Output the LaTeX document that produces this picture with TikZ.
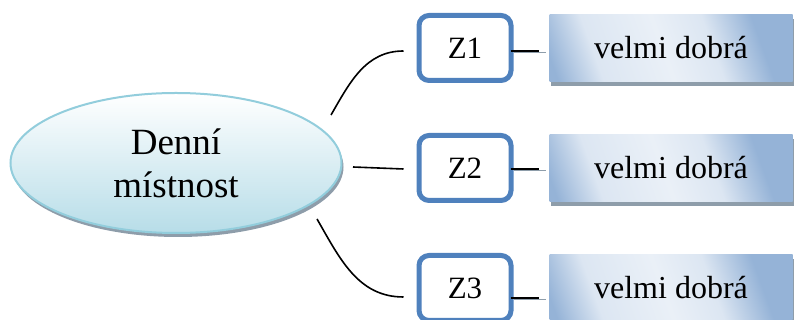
\documentclass[tikz,border=0pt]{standalone}
\usepackage{fontspec}
\setmainfont{Liberation Serif}
\usetikzlibrary{shapes.geometric,shadows}

\definecolor{zblue}{HTML}{4F81BD}
\definecolor{vlight}{HTML}{DCE6F2}
\definecolor{vblue}{HTML}{95B3D7}
\definecolor{hubline}{HTML}{92CDDC}
\definecolor{hubfill}{HTML}{B7DDE8}
\definecolor{shadowgray}{HTML}{8E9DAA}

\pgfdeclarehorizontalshading{gradeshade}{100bp}{color(0bp)=(vblue); color(20bp)=(vblue);
    color(31bp)=(vlight); color(48bp)=(vlight!60!white); color(60bp)=(vlight);
    color(72bp)=(vblue); color(100bp)=(vblue)}

\begin{document}
\begin{tikzpicture}[x=1pt, y=1pt, node distance={120pt},
        hub/.style = {ellipse, draw=hubline, line width=2pt, top color=white, bottom color=hubfill,
            minimum width=331pt, minimum height=140pt, align=center, inner sep=0pt,
            font=\fontsize{37}{43}\selectfont,
            drop shadow={shadow xshift=2pt, shadow yshift=-4pt, fill=shadowgray, opacity=1}},
        zone/.style = {draw=zblue, line width=5pt, rounded corners=10pt, fill=white,
            minimum width=92pt, minimum height=65pt, font=\fontsize{31}{36}\selectfont},
        grade/.style = {shading=gradeshade, shading angle=20,
            minimum width=243pt, minimum height=67pt, inner sep=0pt, font=\fontsize{32}{36}\selectfont,
            drop shadow={shadow xshift=1.5pt, shadow yshift=-4.5pt, fill=shadowgray, opacity=1}},
        link/.style = {line width=1.6pt}]
        \useasboundingbox (0,0) rectangle (795,320);

        \node[hub] (hub) at (176,157) {Denní\\místnost};
        \node[zone] (z1) at (465,272) {Z1};
        \node[zone] (z2) [below of = z1] {Z2};
        \node[zone] (z3) [below of = z2] {Z3};
        \node[grade] (v1) [right of = z1, node distance=206pt] {velmi dobrá};
        \node[grade] (v2) [right of = z2, node distance=206pt] {velmi dobrá};
        \node[grade] (v3) [right of = z3, node distance=206pt] {velmi dobrá};

        \draw[link] ([shift={(155,48)}]hub.center) to[out=60, in=180] ([yshift=-3pt, xshift=-13pt]z1.west);
        \draw[link] ([shift={(177,-4)}]hub.center) -- ([yshift=-1pt, xshift=-13pt]z2.west);
        \draw[link] ([shift={(141,-56)}]hub.center) to[out=-60, in=180] ([yshift=-9pt, xshift=-13pt]z3.west);

        \foreach \i/\dy in {1/-3, 2/-1, 3/-10} {
            \draw[shadowgray, line width=1.4pt] ([yshift=\dy pt - 1.5pt]z\i.east) -- ++(32,0);
            \draw[link] ([yshift=\dy pt, xshift=-3pt]z\i.east) -- ++(28,0);
        }
    \end{tikzpicture}
\end{document}
